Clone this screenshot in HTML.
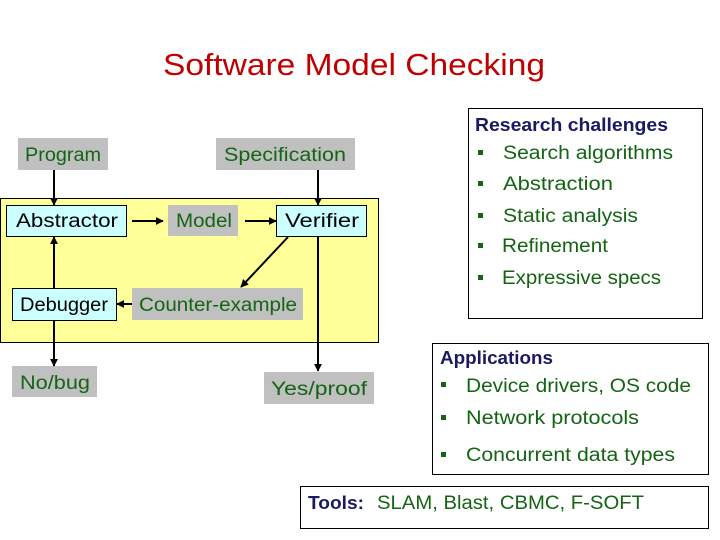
<!DOCTYPE html>
<html><head><meta charset="utf-8"><style>html,body{margin:0;padding:0;background:#fff}svg{display:block}</style></head>
<body>
<svg width="720" height="540" xmlns="http://www.w3.org/2000/svg" font-family="Liberation Sans, sans-serif">
<defs><marker id="a" viewBox="0 0 10 10" refX="9" refY="5" markerWidth="4" markerHeight="4" orient="auto"><path d="M0,0L10,5L0,10z" fill="#000"/></marker></defs>
<rect width="720" height="540" fill="#fff"/>
<text x="163" y="75" font-size="31" fill="#c00000" textLength="382" lengthAdjust="spacingAndGlyphs">Software Model Checking</text>
<rect x="0.5" y="198.5" width="378" height="144" fill="#ffff99" stroke="#000"/>
<g fill="#c0c0c0">
<rect x="18" y="138" width="90" height="32"/><rect x="216" y="138" width="139" height="32"/>
<rect x="168" y="205" width="70" height="31"/><rect x="132" y="288" width="171" height="32"/>
<rect x="12" y="366" width="85" height="31"/><rect x="264" y="372" width="110" height="32"/>
</g>
<g fill="#ccffff" stroke="#000">
<rect x="6.5" y="205.5" width="120" height="31"/><rect x="276.5" y="205.5" width="90" height="31"/>
<rect x="12.5" y="288.5" width="104" height="32"/>
</g>
<g font-size="19" fill="#146414">
<text x="25" y="161" textLength="76" lengthAdjust="spacingAndGlyphs">Program</text>
<text x="224" y="161" textLength="122" lengthAdjust="spacingAndGlyphs">Specification</text>
<text x="176" y="227" textLength="56" lengthAdjust="spacingAndGlyphs">Model</text>
<text x="139" y="311" textLength="158" lengthAdjust="spacingAndGlyphs">Counter-example</text>
<text x="20" y="389" textLength="70" lengthAdjust="spacingAndGlyphs">No/bug</text>
<text x="271" y="395" textLength="96" lengthAdjust="spacingAndGlyphs">Yes/proof</text>
</g>
<g font-size="19" fill="#000">
<text x="16" y="227" textLength="102" lengthAdjust="spacingAndGlyphs">Abstractor</text>
<text x="285" y="227" textLength="74" lengthAdjust="spacingAndGlyphs">Verifier</text>
<text x="20" y="311" textLength="88" lengthAdjust="spacingAndGlyphs">Debugger</text>
</g>
<g stroke="#000" stroke-width="2" marker-end="url(#a)">
<line x1="54" y1="170" x2="54" y2="205"/>
<line x1="318" y1="170" x2="318" y2="205"/>
<line x1="132" y1="221" x2="163" y2="221"/>
<line x1="245" y1="221" x2="276" y2="221"/>
<line x1="288" y1="237" x2="241" y2="287"/>
<line x1="132" y1="304" x2="117" y2="304"/>
<line x1="54" y1="288" x2="54" y2="237"/>
<line x1="54" y1="320" x2="54" y2="366"/>
<line x1="318" y1="237" x2="318" y2="371"/>
</g>
<rect x="468.5" y="108.5" width="234" height="210" fill="none" stroke="#000"/>
<text x="475" y="131" font-size="18" font-weight="bold" fill="#1a1a60" textLength="193" lengthAdjust="spacingAndGlyphs">Research challenges</text>
<g fill="#146414">
<rect x="478" y="150" width="5" height="5"/><rect x="478" y="181" width="5" height="5"/><rect x="478" y="213" width="5" height="5"/><rect x="478" y="243" width="5" height="5"/><rect x="478" y="275" width="5" height="5"/>
<rect x="441" y="382" width="5" height="5"/><rect x="441" y="415" width="5" height="5"/><rect x="441" y="452" width="5" height="5"/>
</g>
<g font-size="19" fill="#146414">
<text x="503" y="159" textLength="170" lengthAdjust="spacingAndGlyphs">Search algorithms</text>
<text x="503" y="190" textLength="110" lengthAdjust="spacingAndGlyphs">Abstraction</text>
<text x="503" y="222" textLength="135" lengthAdjust="spacingAndGlyphs">Static analysis</text>
<text x="502" y="252" textLength="106" lengthAdjust="spacingAndGlyphs">Refinement</text>
<text x="502" y="284" textLength="159" lengthAdjust="spacingAndGlyphs">Expressive specs</text>
<text x="466" y="392" textLength="225" lengthAdjust="spacingAndGlyphs">Device drivers, OS code</text>
<text x="466" y="424" textLength="173" lengthAdjust="spacingAndGlyphs">Network protocols</text>
<text x="466" y="461" textLength="209" lengthAdjust="spacingAndGlyphs">Concurrent data types</text>
<text x="377" y="509" textLength="267" lengthAdjust="spacingAndGlyphs">SLAM, Blast, CBMC, F-SOFT</text>
</g>
<rect x="432.5" y="343.5" width="276" height="131" fill="none" stroke="#000"/>
<text x="440" y="364" font-size="18" font-weight="bold" fill="#1a1a60" textLength="113" lengthAdjust="spacingAndGlyphs">Applications</text>
<rect x="300.5" y="486.5" width="408" height="42" fill="none" stroke="#000"/>
<text x="308" y="509" font-size="18" font-weight="bold" fill="#1a1a60" textLength="56" lengthAdjust="spacingAndGlyphs">Tools:</text>
</svg>
</body></html>
